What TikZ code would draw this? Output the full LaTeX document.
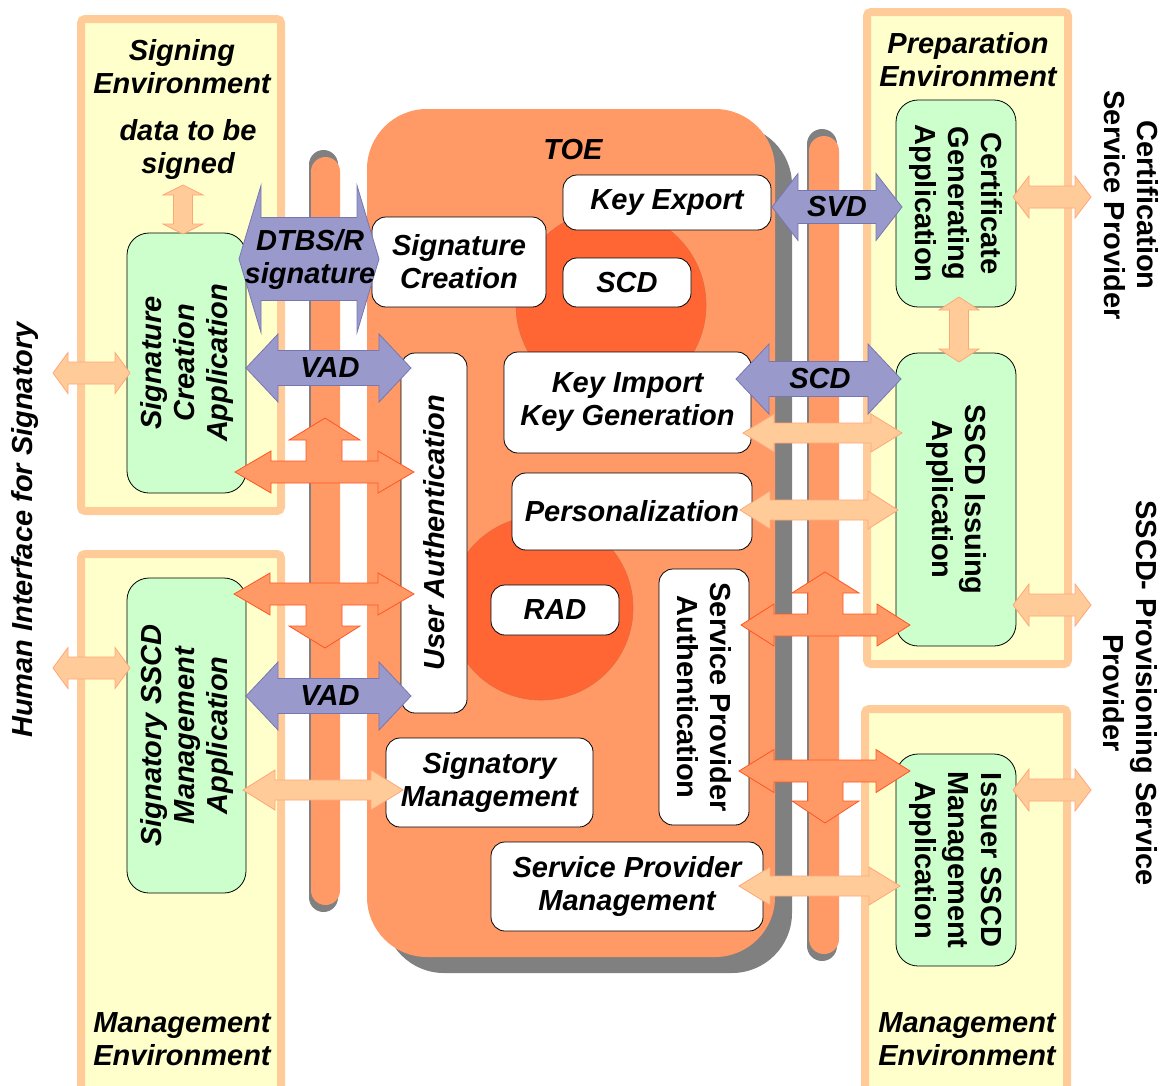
\documentclass[tikz,border=0pt]{standalone}
\usepackage{fontspec}
\setmainfont{Liberation Sans}
\definecolor{toe}{HTML}{FF9966}
\definecolor{circ}{HTML}{FF6633}
\definecolor{circb}{HTML}{E86A40}
\definecolor{yel}{HTML}{FFFFCC}
\definecolor{yelb}{HTML}{FFCC99}
\definecolor{grn}{HTML}{CCFFCC}
\definecolor{pur}{HTML}{9999CC}
\definecolor{purb}{HTML}{7777B0}
\definecolor{lor}{HTML}{FFCC99}
\definecolor{lorb}{HTML}{FFA577}
\definecolor{dorb}{HTML}{FF5522}
\definecolor{shadowgray}{HTML}{808080}
\newcommand{\HArrow}[7]{\draw[#1] (#2,#4) -- ({#2+#7},{#4-#6}) -- ({#2+#7},{#4-#5}) -- ({#3-#7},{#4-#5}) -- ({#3-#7},{#4-#6}) -- (#3,#4) -- ({#3-#7},{#4+#6}) -- ({#3-#7},{#4+#5}) -- ({#2+#7},{#4+#5}) -- ({#2+#7},{#4+#6}) -- cycle;}
\newcommand{\VArrow}[7]{\draw[#1] (#4,#2) -- ({#4+#6},{#2+#7}) -- ({#4+#5},{#2+#7}) -- ({#4+#5},{#3-#7}) -- ({#4+#6},{#3-#7}) -- (#4,#3) -- ({#4-#6},{#3-#7}) -- ({#4-#5},{#3-#7}) -- ({#4-#5},{#2+#7}) -- ({#4-#6},{#2+#7}) -- cycle;}
\tikzset{
  txt/.style={font=\fontsize{29}{33}\selectfont\bfseries\itshape, align=center, inner sep=0pt},
  rtxt/.style={font=\fontsize{29}{33}\selectfont\bfseries, align=center, inner sep=0pt},
  wbox/.style={draw=black, line width=0.8pt, fill=white, rounded corners=14pt, txt},
  gbox/.style={draw=black, line width=0.8pt, fill=grn, rounded corners=22pt},
  envbox/.style={draw=yelb, line width=8pt, fill=yel, rounded corners=4pt},
  purarrow/.style={fill=pur, draw=purb, line width=0.8pt},
  lorarrow/.style={fill=lor, draw=lorb, line width=0.8pt},
  dorarrow/.style={fill=toe, draw=dorb, line width=0.8pt},
}
\begin{document}
\begin{tikzpicture}[x=1pt,y=-1pt]
\useasboundingbox (0,0) rectangle (1164,1085);
% environment boxes
\draw[envbox] (81,19) rectangle (281,511);
\draw[envbox] (81,554) rectangle (281,1100);
\draw[envbox] (867,12) rectangle (1068,664);
\draw[envbox] (865,709) rectangle (1067,1100);
\node[txt] (signenv) at (182,66.5) {Signing\\Environment};
\node[txt] (dtbs) at (188,149.5) {data to be\\signed};
\node[txt] (mgmtenvL) at (182,1039) {Management\\Environment};
\node[txt] (prepenv) at (968,60) {Preparation\\Environment};
\node[txt] (mgmtenvR) at (967,1039) {Management\\Environment};
% pipes
\fill[shadowgray, rounded corners=14.5pt] (309,150) rectangle (338,912);
\fill[toe, rounded corners=14.5pt] (311,157) rectangle (340,905);
\fill[shadowgray, rounded corners=15pt] (807,129) rectangle (837,961);
\fill[toe, rounded corners=15pt] (809,136) rectangle (839,954);
% TOE
\fill[shadowgray, rounded corners=60pt] (384,125) rectangle (792,973);
\fill[toe, rounded corners=60pt] (367,109) rectangle (775,957);
\fill[circ, draw=circb, line width=0.6pt] (611,305) circle [radius=95pt];
\fill[circ, draw=circb, line width=0.6pt] (541,608) circle [radius=92pt];
\node[txt] (toelabel) at (573,150) {TOE};
% white boxes
\node[wbox, minimum width=174pt, minimum height=90pt] (sigcre) at (459,262) {Signature\\Creation};
\node[wbox, minimum width=208pt, minimum height=55pt] (keyexp) at (667,202.5) {Key Export};
\node[wbox, minimum width=128pt, minimum height=49pt] (scd) at (627,282.5) {SCD};
\node[wbox, minimum width=360pt, minimum height=66pt, rotate=90] (userauth) at (434,533) {User Authentication};
\node[wbox, minimum width=247pt, minimum height=101pt] (keyimp) at (627.5,402.5) {Key Import\\Key Generation};
\node[wbox, minimum width=240pt, minimum height=77pt] (pers) at (632,511.5) {Personalization};
\node[wbox, minimum width=128pt, minimum height=50pt] (rad) at (555,610) {RAD};
\node[wbox, rtxt, minimum width=256pt, minimum height=90pt, rotate=-90] (spauth) at (704,697) {Service Provider\\Authentication};
\node[wbox, minimum width=207pt, minimum height=89pt] (sigmgmt) at (489.5,782.5) {Signatory\\Management};
\node[wbox, minimum width=272pt, minimum height=89pt] (spmgmt) at (627,886.5) {Service Provider\\Management};
% green boxes
\node[gbox, txt, minimum width=260pt, minimum height=119pt, rotate=90] (sca) at (186.5,363) {Signature\\Creation\\Application};
\node[gbox, txt, minimum width=315pt, minimum height=119pt, rotate=90] (ssma) at (186.5,735.5) {Signatory SSCD\\Management\\Application};
\node[gbox, rtxt, minimum width=207pt, minimum height=120pt, rotate=-90] (cga) at (956,203.5) {Certificate\\Generating\\Application};
\node[gbox, rtxt, minimum width=293pt, minimum height=120pt, rotate=-90] (sia) at (956,499.5) {SSCD Issuing\\Application};
\node[gbox, rtxt, minimum width=212pt, minimum height=120pt, rotate=-90] (isma) at (956,860) {Issuer SSCD\\Management\\Application};
% outside labels
\node[txt, rotate=90] (human) at (25,530) {Human Interface for Signatory};
\node[rtxt, rotate=-90] (csp) at (1131,205) {Certification\\Service Provider};
\node[rtxt, rotate=-90] (sspsp) at (1130,693) {SSCD- Provisioning Service\\Provider};
% light orange arrows
\HArrow{lorarrow}{53}{130}{373}{11}{20.5}{15}
\HArrow{lorarrow}{53}{130}{668}{11}{20.5}{15}
\VArrow{lorarrow}{185}{234}{183}{9.5}{20}{10}
\VArrow{lorarrow}{297}{362}{959}{9.5}{20}{13}
\HArrow{lorarrow}{1013}{1091}{197}{11}{21}{16}
\HArrow{lorarrow}{1013}{1091}{605}{11}{21}{16}
\HArrow{lorarrow}{1013}{1091}{790}{11}{21}{16}
\HArrow{lorarrow}{743}{902}{433}{10}{19}{31}
\HArrow{lorarrow}{740}{898}{510}{10}{19}{30}
\HArrow{lorarrow}{243}{403}{790}{10}{20}{32}
\HArrow{lorarrow}{739}{900}{886}{10}{19}{31}
% dark orange T arrows
\draw[dorarrow] (235,472) -- (271,451) -- (271,461) -- (306,461) -- (306,440) -- (289,440) -- (325,418) -- (360,440) -- (342,440) -- (342,461) -- (378,461) -- (378,451) -- (414,472) -- (378,493) -- (378,483) -- (271,483) -- (271,493) -- cycle;
\draw[dorarrow] (234,594) -- (270,573) -- (270,583) -- (378,583) -- (378,573) -- (414,594) -- (378,615) -- (378,605) -- (342,605) -- (342,626) -- (360,626) -- (325,648) -- (289,626) -- (306,626) -- (306,605) -- (270,605) -- (270,615) -- cycle;
\draw[dorarrow] (741,625) -- (774,604) -- (774,614) -- (808,614) -- (808,593) -- (792,593) -- (825,572) -- (859,593) -- (843,593) -- (843,614) -- (877,614) -- (877,604) -- (910,625) -- (877,646) -- (877,636) -- (774,636) -- (774,646) -- cycle;
\draw[dorarrow] (739,771) -- (774,749.5) -- (774,760) -- (876,760) -- (876,749.5) -- (910,771) -- (876,792.5) -- (876,782) -- (843,782) -- (843,801) -- (859,801) -- (825,823) -- (792,801) -- (808,801) -- (808,782) -- (774,782) -- (774,792.5) -- cycle;
% purple arrows
\HArrow{purarrow}{239}{379}{259}{41.5}{73.5}{22}
\HArrow{purarrow}{246}{411}{368}{17.5}{34}{32}
\HArrow{purarrow}{246}{411}{696}{17.5}{34}{32}
\HArrow{purarrow}{772}{902}{207}{16.5}{33.5}{26}
\HArrow{purarrow}{736}{901}{379}{17.5}{35}{33}
\node[txt] (dtbsr) at (310,259) {DTBS/R\\signature};
\node[txt] (vad1) at (330,368) {VAD};
\node[txt] (vad2) at (330,696) {VAD};
\node[txt] (svd) at (837,207) {SVD};
\node[txt] (scd2) at (820,379) {SCD};
\end{tikzpicture}
\end{document}
